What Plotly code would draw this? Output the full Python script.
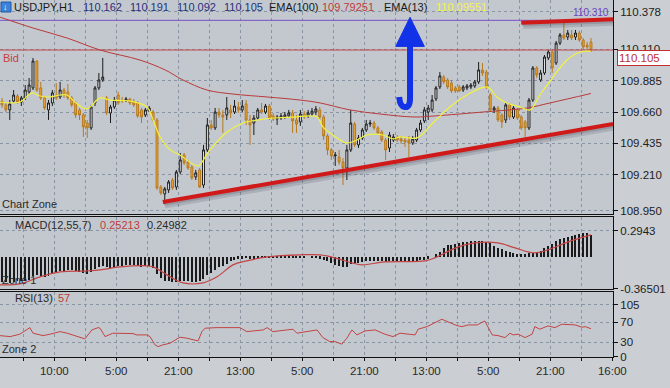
import plotly.graph_objects as go

# ---------------- data ----------------
candle_idx = list(range(153))
open_ = [109.739,109.711,109.675,109.739,109.775,109.732,109.761,109.804,109.833,110.026,
         109.833,109.761,109.675,109.725,109.782,109.768,109.818,109.804,109.761,109.725,
         109.675,109.639,109.581,109.546,109.725,109.833,109.890,109.761,109.653,109.696,
         109.782,109.746,109.739,109.754,109.732,109.725,109.675,109.639,109.667,109.660,
         109.603,109.122,109.072,109.101,109.172,109.122,109.230,109.352,109.301,109.266,
         109.194,109.244,109.136,109.388,109.567,109.546,109.660,109.639,109.639,109.675,
         109.660,109.696,109.675,109.718,109.603,109.581,109.617,109.675,109.660,109.703,
         109.632,109.610,109.617,109.624,109.632,109.653,109.603,109.589,109.646,109.632,
         109.646,109.660,109.675,109.624,109.488,109.388,109.345,109.337,109.301,109.258,
         109.388,109.574,109.424,109.474,109.531,109.574,109.581,109.546,109.517,109.459,
         109.402,109.459,109.474,109.467,109.459,109.459,109.438,109.459,109.531,109.596,
         109.660,109.675,109.754,109.840,109.911,109.890,109.868,109.833,109.840,109.818,
         109.833,109.840,109.847,109.876,109.962,109.947,109.782,109.675,109.689,109.639,
         109.603,109.711,109.624,109.675,109.624,109.589,109.546,109.746,109.976,109.890,
         109.940,110.048,110.091,110.012,110.155,110.213,110.198,110.213,110.198,110.227,
         110.177,110.141,110.162]
high = [109.761,109.725,109.746,109.818,109.789,109.775,109.854,109.904,110.048,110.033,
        109.876,109.775,109.746,109.818,109.868,109.876,109.833,109.861,109.775,109.739,
        109.689,109.653,109.603,109.711,109.847,109.940,110.048,109.775,109.711,109.768,
        109.804,109.768,109.768,109.761,109.754,109.739,109.689,109.689,109.703,109.675,
        109.617,109.136,109.122,109.172,109.187,109.244,109.366,109.366,109.316,109.280,
        109.244,109.258,109.424,109.617,109.603,109.689,109.689,109.675,109.768,109.711,
        109.746,109.732,109.746,109.746,109.639,109.639,109.689,109.725,109.718,109.718,
        109.653,109.639,109.653,109.660,109.675,109.675,109.639,109.675,109.667,109.675,
        109.689,109.703,109.696,109.639,109.502,109.402,109.373,109.388,109.330,109.424,
        109.675,109.589,109.495,109.546,109.603,109.603,109.596,109.560,109.531,109.474,
        109.517,109.502,109.495,109.488,109.481,109.488,109.488,109.546,109.603,109.696,
        109.711,109.782,109.847,109.947,109.926,109.904,109.890,109.847,109.854,109.854,
        109.861,109.868,109.890,110.019,110.012,109.962,109.797,109.703,109.703,109.653,
        109.725,109.725,109.703,109.689,109.639,109.603,109.761,109.990,109.990,109.962,
        110.069,110.105,110.105,110.170,110.227,110.299,110.249,110.249,110.249,110.242,
        110.191,110.163,110.191]
low = [109.689,109.660,109.603,109.725,109.718,109.703,109.746,109.789,109.818,109.804,
       109.746,109.675,109.603,109.703,109.746,109.754,109.761,109.746,109.696,109.617,
       109.603,109.481,109.474,109.531,109.703,109.818,109.876,109.639,109.581,109.682,
       109.711,109.725,109.732,109.711,109.696,109.617,109.581,109.624,109.660,109.589,
       109.101,109.065,109.000,109.079,109.101,109.101,109.215,109.280,109.244,109.172,
       109.172,109.115,109.115,109.373,109.531,109.531,109.617,109.510,109.603,109.617,
       109.646,109.653,109.660,109.567,109.424,109.495,109.603,109.646,109.646,109.603,
       109.596,109.567,109.603,109.610,109.617,109.510,109.510,109.560,109.610,109.617,
       109.632,109.639,109.603,109.459,109.352,109.316,109.273,109.280,109.136,109.172,
       109.373,109.409,109.402,109.459,109.517,109.553,109.531,109.495,109.445,109.316,
       109.373,109.445,109.445,109.431,109.409,109.337,109.424,109.445,109.517,109.581,
       109.603,109.660,109.739,109.825,109.861,109.825,109.797,109.797,109.804,109.804,
       109.818,109.825,109.833,109.861,109.919,109.825,109.660,109.653,109.589,109.546,
       109.581,109.603,109.610,109.603,109.531,109.481,109.531,109.732,109.904,109.876,
       109.926,110.033,109.940,109.998,110.141,110.177,110.177,110.177,110.177,110.163,
       110.112,110.105,110.092]
close = [109.711,109.675,109.718,109.782,109.732,109.761,109.818,109.854,110.026,109.818,
         109.761,109.689,109.725,109.797,109.761,109.818,109.782,109.761,109.711,109.639,
         109.639,109.553,109.546,109.696,109.833,109.890,109.911,109.653,109.696,109.746,
         109.725,109.739,109.754,109.725,109.711,109.632,109.624,109.675,109.689,109.603,
         109.115,109.079,109.108,109.158,109.115,109.230,109.316,109.294,109.258,109.187,
         109.223,109.122,109.388,109.567,109.546,109.660,109.639,109.624,109.689,109.653,
         109.703,109.675,109.703,109.603,109.567,109.617,109.675,109.660,109.703,109.617,
         109.610,109.624,109.632,109.639,109.653,109.596,109.574,109.646,109.624,109.653,
         109.667,109.682,109.624,109.488,109.388,109.345,109.352,109.301,109.258,109.388,
         109.581,109.424,109.474,109.531,109.574,109.581,109.546,109.510,109.459,109.388,
         109.495,109.481,109.459,109.452,109.445,109.438,109.467,109.531,109.581,109.675,
         109.689,109.746,109.833,109.919,109.876,109.840,109.811,109.811,109.811,109.840,
         109.847,109.854,109.876,109.962,109.940,109.840,109.675,109.689,109.603,109.589,
         109.711,109.624,109.689,109.617,109.546,109.546,109.746,109.976,109.926,109.940,
         110.055,110.091,109.976,110.155,110.213,110.191,110.227,110.191,110.227,110.177,
         110.127,110.127,110.105]

ema13_x = [-0.5,4.6,7.7,9.8,12.4,15.0,16.8,18.8,21.9,25.3,27.9,33.0,37.4,39.0,40.8,43.4,45.9,
           50.6,52.4,53.7,58.1,62.2,66.1,69.9,75.1,81.3,82.8,85.4,89.0,91.6,94.2,98.3,100.9,
           102.7,107.1,111.2,115.6,120.0,125.2,127.7,130.3,133.7,136.3,138.8,142.2,145.8,
           149.2,152.0]
ema13_y = [109.732,109.732,109.797,109.775,109.768,109.782,109.782,109.732,109.682,109.761,
           109.746,109.739,109.696,109.603,109.481,109.388,109.352,109.273,109.337,109.388,
           109.517,109.581,109.603,109.617,109.624,109.624,109.553,109.495,109.438,109.459,
           109.495,109.495,109.467,109.481,109.474,109.581,109.696,109.782,109.840,109.768,
           109.725,109.696,109.675,109.782,109.911,110.033,110.091,110.096]

ema100_x = [-0.6,8.0,16.8,25.3,35.6,42.1,46.7,52.9,59.6,68.4,76.9,82.1,89.8,97.5,106.6,111.7,
            124.1,135.5,141.4,152.0]
ema100_y = [110.342,110.263,110.191,110.105,110.033,109.962,109.890,109.818,109.789,109.768,
            109.746,109.725,109.675,109.646,109.624,109.632,109.660,109.689,109.725,109.793]

macd_hist = [-0.29,-0.29,-0.30,-0.29,-0.28,-0.28,-0.27,-0.26,-0.22,-0.21,
             -0.22,-0.23,-0.22,-0.20,-0.17,-0.16,-0.16,-0.15,-0.15,-0.16,
             -0.17,-0.18,-0.19,-0.17,-0.14,-0.12,-0.10,-0.12,-0.13,-0.11,
             -0.10,-0.10,-0.09,-0.09,-0.09,-0.10,-0.11,-0.10,-0.10,-0.13,
             -0.20,-0.24,-0.27,-0.28,-0.29,-0.29,-0.28,-0.28,-0.28,-0.29,
             -0.29,-0.28,-0.25,-0.21,-0.18,-0.15,-0.12,-0.10,-0.08,-0.05,
             -0.04,-0.02,-0.02,-0.01,-0.02,-0.02,-0.01,-0.01,-0.01,-0.01,
             -0.01,-0.01,-0.01,-0.01,-0.01,-0.01,-0.01,-0.01,-0.01,0.0,
             -0.01,-0.01,-0.02,-0.03,-0.05,-0.07,-0.09,-0.10,-0.12,-0.11,
             -0.08,-0.07,-0.07,-0.06,-0.05,-0.05,-0.05,-0.05,-0.05,-0.06,
             -0.05,-0.05,-0.05,-0.05,-0.05,-0.05,-0.05,-0.05,-0.04,-0.03,
             -0.02,0.0,0.03,0.06,0.10,0.13,0.14,0.15,0.16,0.17,
             0.17,0.18,0.18,0.18,0.18,0.17,0.16,0.12,0.10,0.09,
             0.07,0.05,0.04,0.03,0.03,0.03,0.04,0.04,0.05,0.07,
             0.10,0.12,0.15,0.18,0.20,0.21,0.23,0.24,0.25,0.26,
             0.27,0.27,0.25]
macd_sig_x = [-0.6,4.6,9.8,15.0,21.9,25.3,30.5,37.4,39.0,42.6,46.7,51.9,55.5,59.6,63.2,68.4,
              76.9,82.1,85.9,90.3,92.9,98.8,109.2,111.7,117.7,122.1,128.0,132.4,137.5,140.9,
              146.1,152.0]
macd_sig_y = [-0.318,-0.307,-0.227,-0.171,-0.159,-0.148,-0.114,-0.102,-0.114,-0.205,-0.296,
              -0.296,-0.227,-0.091,-0.045,0.0,0.023,0.023,-0.011,-0.068,-0.091,-0.057,-0.045,
              -0.011,0.114,0.159,0.159,0.102,0.045,0.080,0.171,0.250]

rsi_x = [-0.6,2.1,4.6,7.2,8.0,10.6,12.4,13.7,15.0,16.8,19.4,21.4,23.2,24.8,25.3,26.6,28.6,
         33.8,34.8,37.4,38.2,39.5,40.3,41.5,43.4,44.1,45.9,47.7,49.3,50.6,51.6,52.4,55.5,
         58.1,59.6,61.4,63.2,64.8,67.4,68.4,69.9,73.5,75.1,76.1,77.7,81.3,82.8,84.6,85.9,
         87.7,89.0,90.3,91.6,93.7,96.3,98.8,100.9,102.7,106.6,107.4,109.7,113.5,117.4,
         118.7,120.3,122.6,124.6,126.5,128.0,129.8,131.1,131.9,133.2,135.0,136.8,137.5,
         138.8,140.9,142.7,144.5,147.9,149.7,150.5,152.0]
rsi_y = [43.0,41.0,45.9,59.2,47.9,43.0,45.9,47.9,51.1,47.9,41.0,36.4,54.5,59.2,58.0,41.0,47.9,
         47.1,44.4,44.4,41.0,24.2,20.8,24.2,27.7,30.9,39.8,37.8,34.3,32.3,51.1,58.0,59.2,
         59.2,60.0,59.2,51.1,52.5,54.5,59.2,51.1,54.5,56.0,47.9,49.9,54.5,39.0,30.9,30.9,
         25.7,37.8,54.5,44.4,52.5,54.5,45.9,41.0,47.9,44.4,56.0,61.2,76.2,63.2,
         61.2,64.6,64.6,72.7,44.4,43.0,39.0,47.9,44.4,45.9,39.0,45.9,61.2,
         56.0,62.6,59.2,66.1,64.6,60.0,61.2,57.0]

bid_price = 110.105
level_price = 110.318
x_span = [-0.6, 158.0]
trend_low_x = [41.5, 157.7]
trend_low_y = [109.014, 109.574]
trend_high_x = [134.0, 157.7]
trend_high_y = [110.301, 110.325]
arrow_shaft_x = [105.3, 105.3, 105.3, 103.9, 102.7, 102.5]
arrow_shaft_y = [110.141, 109.761, 109.689, 109.696, 109.700, 109.768]
arrow_head_x = [105.3, 101.6, 109.0]
arrow_head_y = [110.340, 110.131, 110.131]

price_ticks = [110.378, 110.110, 109.885, 109.660, 109.435, 109.210, 108.950]
macd_ticks = [0.2943, -0.36501]
macd_tick_text = ["0.2943", "-0.36501"]
rsi_ticks = [105, 70, 30, 0]
time_pos = [5.5, 13.5, 21.5, 29.5, 37.5, 45.5, 53.5, 61.5, 69.5, 77.5,
            85.5, 93.5, 101.5, 109.5, 117.5, 125.5, 133.5, 141.5, 149.5, 157.5]
time_text = ["", "10:00", "", "5:00", "", "21:00", "", "13:00", "", "5:00",
             "", "21:00", "", "13:00", "", "5:00", "", "21:00", "", "16:00"]

# ---------------- styling ----------------
FONT = "Liberation Sans, Arial, sans-serif"
W, H = 670, 388
ML, MR, MT, MB = 0, 57, 0, 31
PW, PH = W - ML - MR, H - MT - MB
GRID = "#8a95a4"
BG = "#c3c8cf"


def px(xp):
    return xp / PW


def py(yp):
    return 1 - yp / PH


fig = go.Figure()

# main panel
fig.add_trace(go.Scatter(x=x_span, y=[level_price, level_price], mode="lines",
                         line=dict(color="#7a50c8", width=1), xaxis="x", yaxis="y"))
fig.add_trace(go.Scatter(x=x_span, y=[bid_price, bid_price], mode="lines",
                         line=dict(color="#c44848", width=1), xaxis="x", yaxis="y"))
fig.add_trace(go.Scatter(x=ema100_x, y=ema100_y, mode="lines", line_shape="spline",
                         line=dict(color="#b83a3a", width=1), xaxis="x", yaxis="y"))
fig.add_trace(go.Candlestick(x=candle_idx, open=open_, high=high, low=low, close=close,
                             increasing=dict(line=dict(color="#1c1c1c", width=1), fillcolor="#f6f6f6"),
                             decreasing=dict(line=dict(color="#b87a1c", width=1), fillcolor="#eba23a"),
                             whiskerwidth=0, xaxis="x", yaxis="y"))
fig.add_trace(go.Scatter(x=ema13_x, y=ema13_y, mode="lines", line_shape="spline",
                         line=dict(color="#f2f23c", width=1.2), xaxis="x", yaxis="y"))
for tx, ty in [(trend_low_x, trend_low_y), (trend_high_x, trend_high_y)]:
    fig.add_trace(go.Scatter(x=[v + 0.5 for v in tx], y=[v - 0.02 for v in ty], mode="lines",
                             line=dict(color="rgba(50,50,65,0.16)", width=7), xaxis="x", yaxis="y"))
    fig.add_trace(go.Scatter(x=[v + 0.3 for v in tx], y=[v - 0.013 for v in ty], mode="lines",
                             line=dict(color="rgba(50,50,65,0.18)", width=4), xaxis="x", yaxis="y"))
    fig.add_trace(go.Scatter(x=tx, y=ty, mode="lines",
                             line=dict(color="#d01a1a", width=4), xaxis="x", yaxis="y"))

# MACD panel
fig.add_trace(go.Bar(x=candle_idx, y=macd_hist, width=0.26, marker=dict(color="#1a1a1a", line_width=0),
                     xaxis="x2", yaxis="y2"))
fig.add_trace(go.Scatter(x=macd_sig_x, y=macd_sig_y, mode="lines", line_shape="spline",
                         line=dict(color="#c24444", width=1.2), xaxis="x2", yaxis="y2"))

# RSI panel
fig.add_trace(go.Scatter(x=rsi_x, y=rsi_y, mode="lines",
                         line=dict(color="#c24444", width=1), xaxis="x3", yaxis="y3"))

xrange = [-0.516, 157.68]
common_x = dict(range=xrange, tickvals=time_pos, ticktext=time_text, showgrid=True,
                gridcolor=GRID, griddash="3px,3px", gridwidth=1, zeroline=False,
                showline=True, linecolor="#111", linewidth=1, mirror=True,
                tickfont=dict(family=FONT, size=11.5, color="#2a2a2a"))
common_y = dict(side="right", showgrid=True, gridcolor=GRID, griddash="3px,3px", gridwidth=1,
                zeroline=False, showline=True, linecolor="#111", linewidth=1,
                ticks="outside", ticklen=4, tickcolor="#111",
                tickfont=dict(family=FONT, size=11.5, color="#222"))

d_main = [(PH - 214) / PH, 1]
d_macd = [(PH - 289) / PH, (PH - 217) / PH]
d_rsi = [0, (PH - 292) / PH]

fig.update_layout(
    width=W, height=H, margin=dict(l=ML, r=MR, t=MT, b=MB),
    paper_bgcolor="#cbced3", plot_bgcolor=BG, showlegend=False, bargap=0,
    xaxis=dict(common_x, anchor="y", showticklabels=False, ticks="", rangeslider=dict(visible=False)),
    xaxis2=dict(common_x, anchor="y2", matches="x", showticklabels=False, ticks=""),
    xaxis3=dict(common_x, anchor="y3", matches="x", ticks="outside", ticklen=3, tickcolor="#111"),
    yaxis=dict(common_y, domain=d_main, anchor="x", range=[108.928, 110.464],
               tickvals=price_ticks, ticktext=["%.3f" % v for v in price_ticks]),
    yaxis2=dict(common_y, domain=d_macd, anchor="x2", range=[-0.3655, 0.4534],
                tickvals=macd_ticks, ticktext=macd_tick_text),
    yaxis3=dict(common_y, domain=d_rsi, anchor="x3", range=[-0.3, 131.3],
                tickvals=rsi_ticks, ticktext=[str(v) for v in rsi_ticks]),
)

# blue arrow (user drawing)
shaft = "M %s %s L %s %s Q %s %s %s %s Q %s %s %s %s" % (
    arrow_shaft_x[0], arrow_shaft_y[0], arrow_shaft_x[1], arrow_shaft_y[1],
    arrow_shaft_x[2], arrow_shaft_y[2], arrow_shaft_x[3], arrow_shaft_y[3],
    arrow_shaft_x[4], arrow_shaft_y[4], arrow_shaft_x[5], arrow_shaft_y[5])
head = "M %s %s L %s %s L %s %s Z" % (arrow_head_x[0], arrow_head_y[0], arrow_head_x[1],
                                      arrow_head_y[1], arrow_head_x[2], arrow_head_y[2])
fig.add_shape(type="path", path=shaft, xref="x", yref="y", line=dict(color="#1232e8", width=6))
fig.add_shape(type="path", path=head, xref="x", yref="y", fillcolor="#1232e8",
              line=dict(color="#1232e8", width=1))

# header icon
fig.add_shape(type="rect", xref="paper", yref="paper", x0=px(1), x1=px(11), y0=py(12), y1=py(2),
              fillcolor="#3b82d8", line=dict(color="#1e5aa8", width=1))


def label(text, xp, yp, color="#1a1a1a", size=11, xanchor="left", yanchor="middle"):
    fig.add_annotation(text=text, x=px(xp), y=py(yp), xref="paper", yref="paper",
                       xanchor=xanchor, yanchor=yanchor, showarrow=False,
                       font=dict(family=FONT, size=size, color=color))


label("↓", 6, 7, color="white", size=9, xanchor="center")
label("USDJPY,H1", 12, 7)
navy = "#26307e"
label("110.162", 81, 7, navy)
label("110.191", 128, 7, navy)
label("110.092", 175, 7, navy)
label("110.105", 222, 7, navy)
label("EMA(100)", 267, 7)
label("109.79251", 320, 7, "#c23a3a")
label("EMA(13)", 382, 7)
label("110.09551", 434, 7, "#f4f44a")
label("110.310", 611, 13, "#6a44c0", size=10, xanchor="right")
label("Bid", 1, 58, "#c84040", size=11)
label("Chart Zone", 0, 204, "#2a2a2a", size=11)
label("MACD(12,55,7)", 13, 225, "#2a2a2a", size=11)
label("0.25213", 98, 225, "#c23a3a", size=11)
label("0.24982", 145, 225, "#2a2a2a", size=11)
label("Zone 1", 0, 280, "#2a2a2a", size=11)
label("RSI(13)", 13, 298, "#2a2a2a", size=11)
label("57", 56, 298, "#c23a3a", size=11)
label("Zone 2", 0, 349, "#2a2a2a", size=11)

# current price box
fig.add_annotation(text="110.105", x=px(617), y=bid_price, xref="paper", yref="y",
                   xanchor="left", yanchor="top", showarrow=False, bgcolor="white",
                   bordercolor="#c03030", borderwidth=1, borderpad=1, width=50, align="left",
                   font=dict(family=FONT, size=11.5, color="#c03030"))

fig.write_html("out.html")
